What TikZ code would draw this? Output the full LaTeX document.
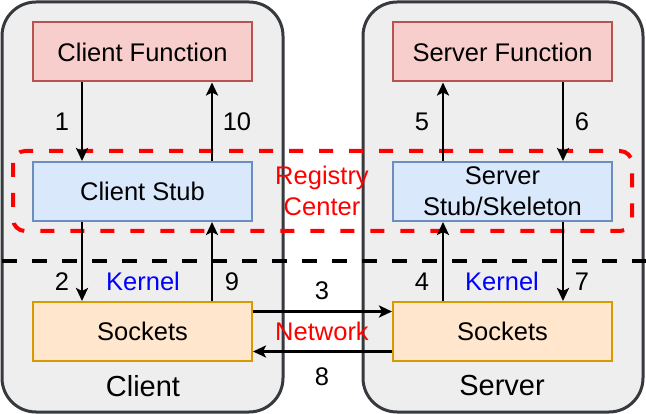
\documentclass[tikz,border=0pt]{standalone}
\usepackage{fontspec}
\setmainfont{Liberation Sans}
\usetikzlibrary{arrows.meta,calc}

\definecolor{sidefill}{HTML}{EEEEEE}
\definecolor{sideline}{HTML}{36393D}
\definecolor{funcfill}{HTML}{F8CECC}
\definecolor{funcline}{HTML}{B85450}
\definecolor{stubfill}{HTML}{DAE8FC}
\definecolor{stubline}{HTML}{6C8EBF}
\definecolor{sockfill}{HTML}{FFE6CC}
\definecolor{sockline}{HTML}{D79B00}

\begin{document}
\begin{tikzpicture}[
		x=1pt, y=-1pt,
		every node/.style={font=\fontsize{25.5}{31}\selectfont},
		title/.style={font=\fontsize{29}{34}\selectfont},
		side/.style={draw=sideline, fill=sidefill, line width=3pt, rounded corners=34pt},
		box/.style={rectangle, line width=2pt, inner sep=0pt, minimum width=219pt, minimum height=59pt, align=center},
		func/.style={box, draw=funcline, fill=funcfill},
		stub/.style={box, draw=stubline, fill=stubfill},
		sock/.style={box, draw=sockline, fill=sockfill},
		flow/.style={->, line width=2.5pt},
		>={Stealth[length=13pt,width=12pt,inset=3pt]}]
	\useasboundingbox (0,0) rectangle (646,414);
	%% define containers
	\draw[side] (2,2) rectangle (283,412);
	\draw[side] (363,2) rectangle (643,412);
	\draw[line width=4pt, dash pattern=on 15pt off 15pt] (2,261) -- (646,261);
	\draw[red, line width=4pt, dash pattern=on 14pt off 16pt, rounded corners=12pt] (13,151) rectangle (632,231);
	%% define boxes
	\node (cfun) at (142.5,52) [func] {Client Function};
	\node (sfun) at (502.5,52) [func] {Server Function};
	\node (cstub) at (142.5,191.5) [stub] {Client Stub};
	\node (sstub) at (502.5,191.5) [stub] {Server\\Stub/Skeleton};
	\node (csock) at (142.5,331.5) [sock] {Sockets};
	\node (ssock) at (502.5,331.5) [sock] {Sockets};
	%% define texts
	\node (reg) at (322,191) [red, align=center] {Registry\\Center};
	\node (net) at (322,331) [red] {Network};
	\node (ckern) at (143,281) [blue] {Kernel};
	\node (skern) at (502,281) [blue] {Kernel};
	\node (client) at (143,386) [title] {Client};
	\node (server) at (502,386) [title] {Server};
	\node (n1) at (62,122) {1};
	\node (n10) at (237,122) {10};
	\node (n5) at (422,122) {5};
	\node (n6) at (582,122) {6};
	\node (n2) at (62,282) {2};
	\node (n9) at (232,282) {9};
	\node (n4) at (422,282) {4};
	\node (n7) at (582,282) {7};
	\node (n3) at (322,291) {3};
	\node (n8) at (322,377) {8};
	%% define arrows
	\draw[flow] ([xshift=-60.5pt]cfun.south) -- ([xshift=-60.5pt]cstub.north);
	\draw[flow] ([xshift=-60.5pt]cstub.south) -- ([xshift=-60.5pt]csock.north);
	\draw[flow] ([yshift=20pt]csock.east) -- ([yshift=20pt]ssock.west);
	\draw[flow] ([xshift=-59.5pt]ssock.north) -- ([xshift=-59.5pt]sstub.south);
	\draw[flow] ([xshift=-59.5pt]sstub.north) -- ([xshift=-59.5pt]sfun.south);
	\draw[flow] ([xshift=60.5pt]sfun.south) -- ([xshift=60.5pt]sstub.north);
	\draw[flow] ([xshift=60.5pt]sstub.south) -- ([xshift=60.5pt]ssock.north);
	\draw[flow] ([yshift=-20pt]ssock.west) -- ([yshift=-20pt]csock.east);
	\draw[flow] ([xshift=69.5pt]csock.north) -- ([xshift=69.5pt]cstub.south);
	\draw[flow] ([xshift=69.5pt]cstub.north) -- ([xshift=69.5pt]cfun.south);
\end{tikzpicture}
\end{document}
